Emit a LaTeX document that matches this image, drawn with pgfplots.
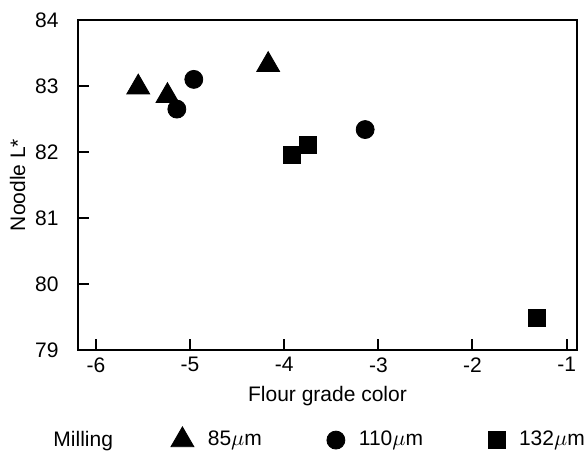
\documentclass[border=0pt]{standalone}
\usepackage{pgfplots}
\pgfplotsset{compat=1.18}
\usepackage{fontspec}
\setmainfont{Liberation Sans}
\begin{document}
\fontsize{10.5}{12.6}\selectfont
\begin{tikzpicture}
\begin{axis}[
    scale only axis,
    width=249.5pt, height=165pt,
    xmin=-6.19, xmax=-0.89,
    ymin=79, ymax=84,
    xtick={-6,-5,-4,-3,-2,-1},
    ytick={79,80,81,82,83,84},
    tick align=inside,
    xtick pos=left, ytick pos=left,
    major tick length=5.5pt,
    axis line style={line width=1pt},
    every tick/.style={black, line width=1pt},
    /pgf/number format/assume math mode=true,
    tick label style={font=\fontsize{10.5}{12.6}\selectfont},
    yticklabel style={xshift=-6pt},
    label style={font=\fontsize{10.5}{12.6}\selectfont},
    xlabel={Flour grade color},
    ylabel={Noodle L*},
    ylabel style={yshift=-2.2pt},
    legend style={
        at={(axis description cs:-0.078,-0.273)}, anchor=west,
        draw=none, inner sep=0pt,
        legend columns=-1,
        font=\fontsize{10.5}{12.6}\selectfont,
        /tikz/every odd column/.append style={column sep=5pt},
        /tikz/column 2/.style={column sep=27pt},
        /tikz/column 4/.style={column sep=30.5pt},
        /tikz/column 6/.style={column sep=30.5pt},
    },
]
\coordinate (bl) at (rel axis cs:0,0);
\coordinate (tr) at (rel axis cs:1,1);
\addlegendimage{empty legend}
\addlegendentry{Milling}
% 85 um
\addplot[only marks, mark=triangle*, mark size=6.6pt, black] coordinates {
    (-5.55, 82.98)
    (-5.24, 82.85)
    (-4.17, 83.32)
};
\addlegendentry{85$\mu$m}
% 110 um
\addplot[only marks, mark=*, mark size=4.5pt, black] coordinates {
    (-5.14, 82.65)
    (-4.96, 83.10)
    (-3.14, 82.34)
};
\addlegendentry{110$\mu$m}
% 132 um
\addplot[only marks, mark=square*, mark size=4.25pt, black] coordinates {
    (-3.92, 81.96)
    (-3.75, 82.10)
    (-1.32, 79.48)
};
\addlegendentry{132$\mu$m}
\end{axis}
\pgfresetboundingbox
\path[use as bounding box] ([xshift=-39pt,yshift=-55pt]bl) rectangle ([xshift=5pt,yshift=10pt]tr);
\end{tikzpicture}
\end{document}
